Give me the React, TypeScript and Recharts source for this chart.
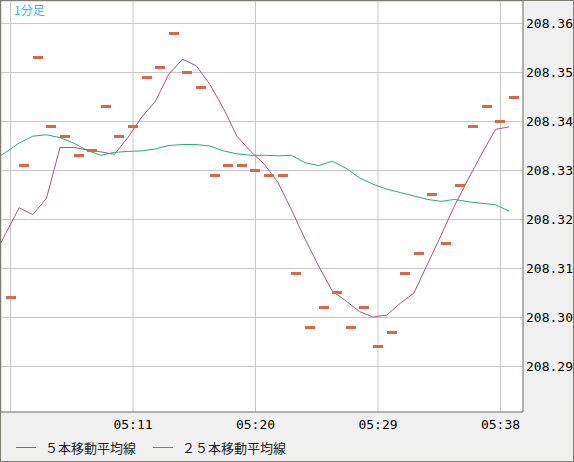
import React from 'react'
import { ComposedChart, Line, XAxis, YAxis, CartesianGrid } from 'recharts'

// minutes after 05:00
const minutes = [
  1, 2, 3, 4, 5, 6, 7, 8, 9, 10, 11, 12, 13, 14, 15, 16, 17, 18, 19, 20,
  21, 22, 23, 24, 25, 26, 27, 28, 29, 30, 31, 32, 33, 34, 35, 36, 37, 38, 39,
]

// 1-minute closes, 05:02 .. 05:39
const closes = [
  208.304, 208.331, 208.353, 208.339, 208.337, 208.333, 208.334, 208.343, 208.337, 208.339,
  208.349, 208.351, 208.358, 208.35, 208.347, 208.329, 208.331, 208.331, 208.33, 208.329,
  208.329, 208.309, 208.298, 208.302, 208.305, 208.298, 208.302, 208.294, 208.297, 208.309,
  208.313, 208.325, 208.315, 208.327, 208.339, 208.343, 208.34, 208.345,
]

// 5 period moving average, 05:01 .. 05:39
const ma5 = [
  208.3117, 208.3171, 208.3224, 208.321, 208.3243, 208.3347, 208.3347, 208.3342, 208.3338, 208.3333,
  208.3368, 208.3409, 208.3441, 208.3497, 208.3527, 208.3514, 208.3476, 208.3427, 208.337, 208.3339,
  208.3313, 208.3276, 208.322, 208.316, 208.3105, 208.3054, 208.3034, 208.3012, 208.3001, 208.3005,
  208.3029, 208.305, 208.3109, 208.3168, 208.3229, 208.3283, 208.3335, 208.3384, 208.3389,
]

// 25 period moving average, 05:01 .. 05:39
const ma25 = [
  208.3319, 208.3337, 208.3356, 208.337, 208.3373, 208.3367, 208.3356, 208.3341, 208.3331, 208.3337,
  208.3339, 208.334, 208.3344, 208.3351, 208.3353, 208.3353, 208.335, 208.334, 208.3334, 208.3331,
  208.3331, 208.333, 208.3331, 208.3316, 208.331, 208.3319, 208.3305, 208.3285, 208.3272, 208.3262,
  208.3255, 208.3248, 208.3241, 208.3237, 208.3241, 208.3236, 208.3233, 208.323, 208.3217,
]

const xTicks = [2, 11, 20, 29, 38]
const yTicks = [208.29, 208.3, 208.31, 208.32, 208.33, 208.34, 208.35, 208.36]

const data = minutes.map((t, i) => ({
  t,
  close: i === 0 ? null : closes[i - 1],
  ma5: ma5[i],
  ma25: ma25[i],
}))

const MA5_COLOR = '#a9567f'
const MA25_COLOR = '#27ad76'
const DOT_COLOR = '#d9684b'

const xDomain = [1.302, 39.654]
const maShift = 0.36

const fmtTime = (v: number) => (v === 2 ? '' : `05:${String(v).padStart(2, '0')}`)

const Dash = (props: any) => {
  const { cx, cy, index } = props
  if (cy == null || cx == null || props.value == null) return <g key={index} />
  return <rect key={index} x={Math.round(cx - 5)} y={Math.round(cy - 1.5)} width={10} height={3} fill={DOT_COLOR} />
}

const axisFont = { fontFamily: '"DejaVu Sans Mono", monospace', fontSize: 13, fill: '#000' }

export default function App() {
  return (
    <div
      style={{
        position: 'absolute',
        left: 0,
        top: 0,
        width: 574,
        height: 462,
        boxSizing: 'border-box',
        border: '1px solid #7c7c74',
        background: '#f0f0f0',
      }}
    >
      <ComposedChart width={572} height={460} data={data} margin={{ top: 0, right: 0, bottom: 0, left: 0 }}>
        <CartesianGrid xAxisId="main" stroke="#c8c8c8" fill="#fff" fillOpacity={1} />
        <XAxis
          xAxisId="ma"
          dataKey="t"
          type="number"
          domain={[xDomain[0] + maShift, xDomain[1] + maShift]}
          allowDataOverflow
          height={0}
          hide
        />
        <XAxis
          xAxisId="main"
          dataKey="t"
          type="number"
          domain={xDomain}
          allowDataOverflow
          ticks={xTicks}
          interval={0}
          tickFormatter={fmtTime}
          height={49}
          axisLine={{ stroke: '#808080' }}
          tickLine={false}
          tickSize={8}
          tickMargin={0}
          tick={axisFont}
        />
        <YAxis
          orientation="right"
          type="number"
          width={50}
          domain={[208.280714, 208.364592]}
          allowDataOverflow
          ticks={yTicks}
          interval={0}
          tickFormatter={(v: number) => v.toFixed(2)}
          axisLine={{ stroke: '#808080' }}
          tickLine={false}
          tickSize={3}
          tickMargin={0}
          tick={axisFont}
        />
        <Line
          xAxisId="ma"
          dataKey="ma25"
          type="linear"
          stroke={MA25_COLOR}
          strokeWidth={1}
          dot={false}
          activeDot={false}
          isAnimationActive={false}
        />
        <Line
          xAxisId="ma"
          dataKey="ma5"
          type="linear"
          stroke={MA5_COLOR}
          strokeWidth={1}
          dot={false}
          activeDot={false}
          isAnimationActive={false}
        />
        <Line
          xAxisId="main"
          dataKey="close"
          stroke="none"
          dot={<Dash />}
          activeDot={false}
          isAnimationActive={false}
        />
      </ComposedChart>
      <div
        style={{
          position: 'absolute',
          left: 13,
          top: 2,
          fontFamily: '"Noto Sans CJK JP", sans-serif',
          fontSize: 12,
          lineHeight: '14px',
          color: '#3cb4e6',
        }}
      >
        1分足
      </div>
      <div style={{ position: 'absolute', left: 15, top: 446, width: 20, height: 1, background: MA5_COLOR }} />
      <div
        style={{
          position: 'absolute',
          left: 44,
          top: 439,
          fontFamily: '"Noto Sans CJK JP", sans-serif',
          fontSize: 13,
          lineHeight: '16px',
          color: '#222',
          whiteSpace: 'nowrap',
        }}
      >
        ５本移動平均線
      </div>
      <div style={{ position: 'absolute', left: 152, top: 446, width: 20, height: 1, background: MA25_COLOR }} />
      <div
        style={{
          position: 'absolute',
          left: 181,
          top: 439,
          fontFamily: '"Noto Sans CJK JP", sans-serif',
          fontSize: 13,
          lineHeight: '16px',
          color: '#222',
          whiteSpace: 'nowrap',
        }}
      >
        ２５本移動平均線
      </div>
    </div>
  )
}
